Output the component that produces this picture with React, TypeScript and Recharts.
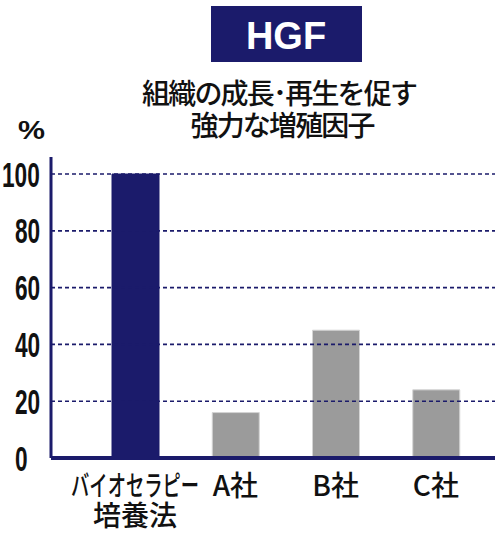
import React from "react";
import { BarChart, Bar, XAxis, YAxis, Cell, ReferenceLine } from "recharts";

const categories = ["バイオセラピー\n培養法", "A社", "B社", "C社"];
const values = [100, 16, 45, 24];
const yTicks = [0, 20, 40, 60, 80, 100];
const gridValues = [20, 40, 60, 80, 100];
const titleText = "HGF";
const subtitleLines = ["組織の成長･再生を促す", "強力な増殖因子"];
const unitLabel = "%";

const NAVY = "#1b1b6b";
const GRAY = "#9b9b9b";
const JP = "'Noto Sans CJK JP', 'Noto Sans', sans-serif";

const data = categories.map((name, i) => ({ name, value: values[i] }));

const XTick = (props: any) => {
  const { x, y, payload } = props;
  const lines = String(payload.value).split("\n");
  return (
    <g>
      {lines.map((ln: string, i: number) => {
        const kata = /[\u30A0-\u30FF]/.test(ln);
        const extra: any = kata ? { textLength: ln.length * 18.3, lengthAdjust: "spacingAndGlyphs" } : {};
        return (
          <text
            key={i}
            x={x}
            y={y + 30 + i * 30}
            textAnchor="middle"
            fontFamily={JP}
            fontSize={28}
            fontWeight={500}
            fill="#111"
            {...extra}
          >
            {ln}
          </text>
        );
      })}
    </g>
  );
};

const YTick = (props: any) => {
  const { y, payload } = props;
  const s = String(payload.value);
  const startX = s.length >= 3 ? 2 : 15;
  return (
    <text
      x={startX}
      y={y + 12.5}
      textAnchor="start"
      fontFamily="'Liberation Sans Narrow', 'Liberation Sans', Arial, sans-serif"
      fontWeight="bold"
      fontSize={35}
      fill="#111"
      textLength={s.length * 12.6}
      lengthAdjust="spacingAndGlyphs"
    >
      {s}
    </text>
  );
};

export default function App() {
  return (
    <div style={{ position: "absolute", left: 0, top: 0, width: 500, height: 538, background: "#fff" }}>
      <BarChart
        width={500}
        height={538}
        data={data}
        margin={{ top: 157, right: 5, bottom: 0, left: 0 }}
      >
        <XAxis
          dataKey="name"
          height={80}
          axisLine={{ stroke: NAVY, strokeWidth: 4 }}
          tickLine={false}
          tick={<XTick />}
          interval={0}
          padding={{ left: 34, right: 9 }}
        />
        <YAxis
          width={51}
          domain={[0, 106]}
          ticks={yTicks}
          axisLine={{ stroke: NAVY, strokeWidth: 3 }}
          tickLine={false}
          tick={<YTick />}
          interval={0}
        />
        <Bar dataKey="value" barSize={47} isAnimationActive={false}>
          {data.map((d, i) => (
            <Cell
              key={d.name}
              fill={i === 0 ? NAVY : GRAY}
              stroke={i === 0 ? NAVY : "#d4d4d4"}
              strokeWidth={1}
            />
          ))}
        </Bar>
        {gridValues.map((v) => (
          <ReferenceLine key={v} y={v} stroke={NAVY} strokeWidth={1.6} strokeDasharray="4 3" />
        ))}
      </BarChart>
      <svg
        width={500}
        height={538}
        style={{ position: "absolute", left: 0, top: 0, pointerEvents: "none" }}
      >
        <rect x={211} y={6} width={151} height={56} fill={NAVY} />
        <text
          x={286}
          y={49}
          textAnchor="middle"
          fontFamily="'Liberation Sans', Arial, sans-serif"
          fontWeight="bold"
          fontSize={38}
          fill="#fff"
        >
          {titleText}
        </text>
        <text x={280} y={104} textAnchor="middle" fontFamily={JP} fontSize={28} fontWeight={500} fill="#111" textLength={276} lengthAdjust="spacing">
          {subtitleLines[0]}
        </text>
        <text x={283} y={136} textAnchor="middle" fontFamily={JP} fontSize={28} fontWeight={500} fill="#111" textLength={185} lengthAdjust="spacing">
          {subtitleLines[1]}
        </text>
        <text
          x={31.5}
          y={139}
          textAnchor="middle"
          fontFamily="'Liberation Sans', Arial, sans-serif"
          fontWeight="bold"
          fontSize={26}
          fill="#111"
          textLength={27}
          lengthAdjust="spacingAndGlyphs"
        >
          {unitLabel}
        </text>
      </svg>
    </div>
  );
}
